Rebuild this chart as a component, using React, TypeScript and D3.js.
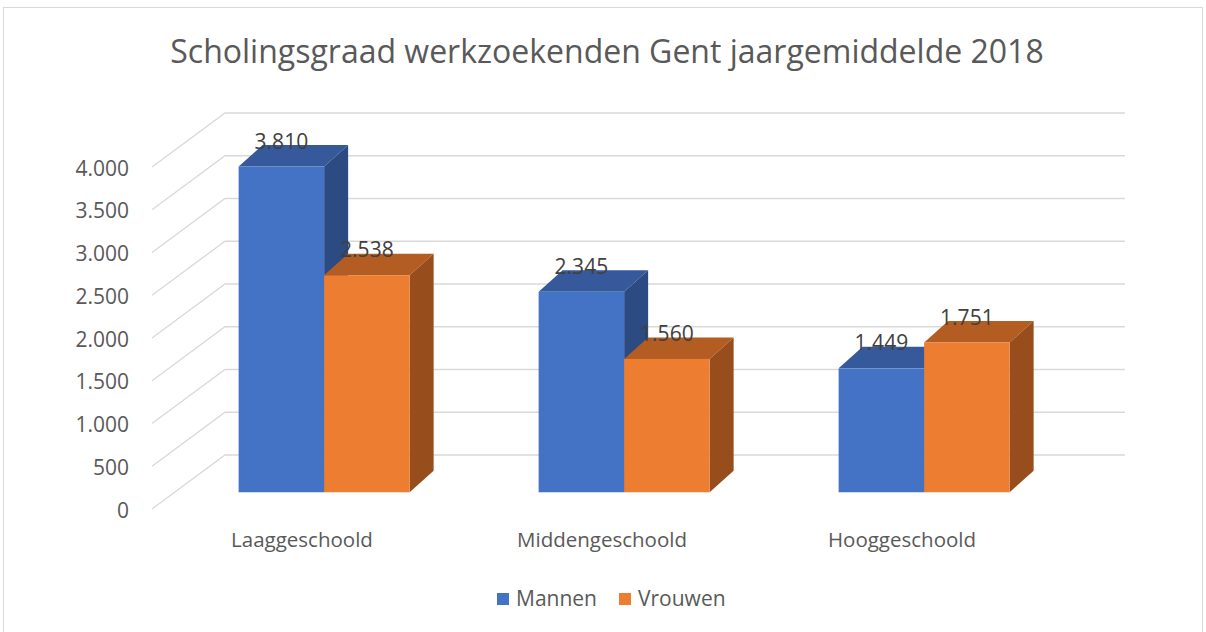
import React from "react";
import * as d3 from "d3";

const categories = ["Laaggeschoold", "Middengeschoold", "Hooggeschoold"];
const seriesNames = ["Mannen", "Vrouwen"];
const mannen = [3810, 2345, 1449];
const vrouwen = [2538, 1560, 1751];
const yTicks = [0, 500, 1000, 1500, 2000, 2500, 3000, 3500, 4000];
const title = "Scholingsgraad werkzoekenden Gent jaargemiddelde 2018";

const W = 1206;
const H = 632;
const FONT = "'Open Sans', 'Noto Sans', sans-serif";
const TEXT = "#595959";

const colors = [
  { front: "#4472C4", top: "#35599A", side: "#2C4B82" },
  { front: "#ED7D31", top: "#B45D22", side: "#984E1C" },
];

const nl = d3.formatLocale({ decimal: ",", thousands: ".", grouping: [3], currency: ["€", ""] });
const fmt = nl.format(",d");

export default function App() {
  const frontLeft = 152;
  const frontRight = 1052;
  const frontZeroY = 509;
  const depthDx = 73;
  const depthDy = -54;
  const y = d3.scaleLinear().domain([0, 4000]).range([0, 342]);
  const x = d3.scaleBand<string>().domain(categories).range([frontLeft, frontRight]).padding(0);
  const sub = d3.scaleBand<string>().domain(seriesNames).range([-85.5, 85.5]).padding(0);

  const barDepth = 0.31;
  const barDx = 24;
  const barDy = -21.5;
  const ox = depthDx * barDepth - 0.5;
  const oy = frontZeroY + depthDy * barDepth;

  const series = [mannen, vrouwen];

  return (
    <svg width={W} height={H} style={{ position: "absolute", left: 0, top: 0, background: "#fff" }}>
      <rect x={3.5} y={7.5} width={1199} height={640} fill="#fff" stroke="#D9D9D9" strokeWidth={1} />
      <text x={607} y={63} textAnchor="middle" fontFamily={FONT} fontSize={32} fill={TEXT}>
        {title}
      </text>
      {yTicks.map((t) => {
        const fy = frontZeroY - y(t);
        return (
          <g key={t}>
            <polyline
              points={`${frontLeft},${fy} ${frontLeft + depthDx},${fy + depthDy} ${frontRight + depthDx},${fy + depthDy}`}
              fill="none"
              stroke="#D9D9D9"
              strokeWidth={1.3}
            />
            <text x={129} y={fy + 8.5} textAnchor="end" fontFamily={FONT} fontSize={21} fill={TEXT}>
              {fmt(t)}
            </text>
          </g>
        );
      })}
      {categories.map((c, ci) => (
        <g key={c}>
          {series.map((vals, si) => {
            const v = vals[ci];
            const x0 = (x(c) as number) + x.bandwidth() / 2 + (sub(seriesNames[si]) as number) + ox;
            const w = sub.bandwidth();
            const top = oy - y(v);
            const col = colors[si];
            return (
              <g key={si}>
                <polygon
                  points={`${x0},${top} ${x0 + barDx},${top + barDy} ${x0 + w + barDx},${top + barDy} ${x0 + w},${top}`}
                  fill={col.top}
                />
                <polygon
                  points={`${x0 + w},${top} ${x0 + w + barDx},${top + barDy} ${x0 + w + barDx},${oy + barDy} ${x0 + w},${oy}`}
                  fill={col.side}
                />
                <rect x={x0} y={top} width={w} height={oy - top} fill={col.front} />
              </g>
            );
          })}
          {series.map((vals, si) => {
            const v = vals[ci];
            const x0 = (x(c) as number) + x.bandwidth() / 2 + (sub(seriesNames[si]) as number) + ox;
            const w = sub.bandwidth();
            const top = oy - y(v);
            return (
              <text key={"l" + si} x={x0 + w / 2} y={top - 18} textAnchor="middle" fontFamily={FONT} fontSize={21} fill="#404040">
                {fmt(v)}
              </text>
            );
          })}
          <text x={(x(c) as number) + x.bandwidth() / 2} y={547} textAnchor="middle" fontFamily={FONT} fontSize={20.5} fill={TEXT}>
            {c}
          </text>
        </g>
      ))}
      <g>
        <rect x={497} y={593} width={12} height={12} fill={colors[0].front} />
        <text x={516} y={606} fontFamily={FONT} fontSize={21} fill={TEXT}>{seriesNames[0]}</text>
        <rect x={619} y={593} width={12} height={12} fill={colors[1].front} />
        <text x={638} y={606} fontFamily={FONT} fontSize={21} fill={TEXT}>{seriesNames[1]}</text>
      </g>
    </svg>
  );
}
